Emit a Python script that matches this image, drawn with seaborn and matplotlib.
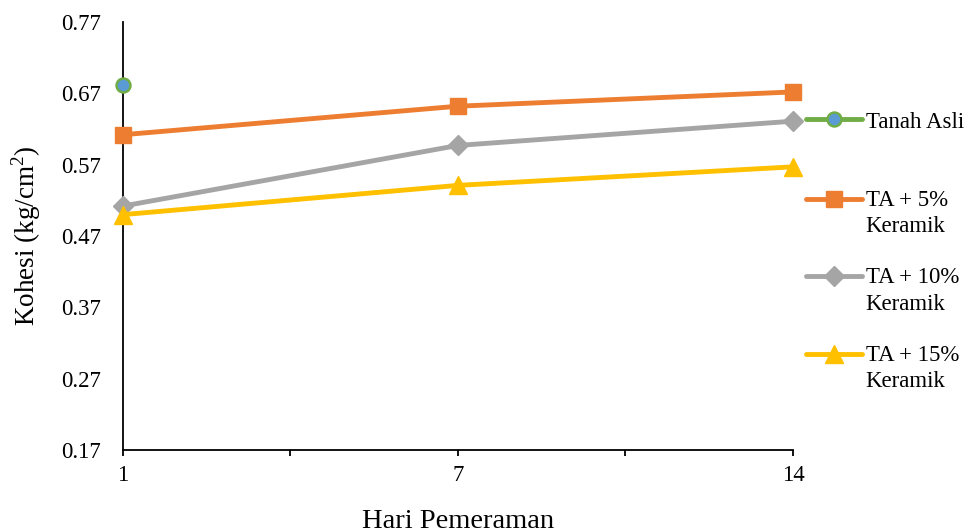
import matplotlib
matplotlib.use("Agg")
import matplotlib.pyplot as plt
from matplotlib.legend_handler import HandlerLine2D
import numpy as np
import pandas as pd
import seaborn as sns

# Curing days (category axis)
hari = ["1", "7", "14"]

# Cohesion values (kg/cm2) per mixture
tanah_asli = [0.682]
ta_5 = [0.612, 0.652, 0.672]
ta_10 = [0.512, 0.597, 0.631]
ta_15 = [0.500, 0.541, 0.567]

series_labels = ["Tanah Asli", "TA + 5%\nKeramik", "TA + 10%\nKeramik", "TA + 15%\nKeramik"]
y_ticks = [0.17, 0.27, 0.37, 0.47, 0.57, 0.67, 0.77]

sns.set_theme(style="white")
plt.rcParams["font.family"] = ["Liberation Serif", "DejaVu Serif"]
plt.rcParams["text.color"] = "black"
plt.rcParams["mathtext.fontset"] = "custom"
plt.rcParams["mathtext.rm"] = "Liberation Serif"

LEGEND_FS = 16.5


class FirstLineHandler(HandlerLine2D):
    """Line handler that lifts the sample to the first line of a two-line label."""

    def __init__(self, shift, **kw):
        super().__init__(**kw)
        self.shift = shift

    def create_artists(self, legend, orig_handle, xdescent, ydescent,
                       width, height, fontsize, trans):
        artists = super().create_artists(legend, orig_handle, xdescent, ydescent,
                                         width, height, fontsize, trans)
        for a in artists:
            a.set_ydata(np.asarray(a.get_ydata(), dtype=float) + self.shift)
        return artists


def frame(values):
    days = pd.Categorical(hari[:len(values)], categories=hari, ordered=True)
    return pd.DataFrame({"Hari": days, "Kohesi": values})


fig = plt.figure(figsize=(9.76, 5.32), dpi=100)
ax = fig.add_axes([0.126, 0.1541, 0.6865, 0.8045])

styles = [
    dict(color="#70AD47", marker="o", markerfacecolor="#5B9BD5", markeredgecolor="#70AD47",
         markersize=10, markeredgewidth=1.8),
    dict(color="#ED7D31", marker="s", markerfacecolor="#ED7D31", markeredgecolor="#ED7D31",
         markersize=12, markeredgewidth=1),
    dict(color="#A5A5A5", marker="D", markerfacecolor="#A5A5A5", markeredgecolor="#A5A5A5",
         markersize=10, markeredgewidth=1),
    dict(color="#FFC000", marker="^", markerfacecolor="#FFC000", markeredgecolor="#FFC000",
         markersize=13, markeredgewidth=1),
]

for values, label, st in zip([tanah_asli, ta_5, ta_10, ta_15], series_labels, styles):
    sns.lineplot(data=frame(values), x="Hari", y="Kohesi", ax=ax, label=label,
                 linewidth=3.5, sort=False, legend=False, clip_on=False, zorder=3, **st)

ax.set_xlim(0, 2)
ax.set_ylim(0.17, 0.77)
ax.set_xticks([0, 1, 2])
ax.set_xticklabels(hari)
ax.set_xticks([0.5, 1.5], minor=True)
ax.set_yticks(y_ticks)
ax.set_yticklabels([f"{v:.2f}" for v in y_ticks])

for side in ["top", "right"]:
    ax.spines[side].set_visible(False)
for side in ["left", "bottom"]:
    ax.spines[side].set_color("black")
    ax.spines[side].set_linewidth(1.3)

ax.tick_params(axis="both", which="both", direction="out", width=1.3,
               color="black", labelsize=16.5, labelcolor="black")
ax.tick_params(axis="y", length=6, pad=10)
ax.tick_params(axis="x", which="both", length=4.5, pad=6.5, bottom=True)

ax.set_xlabel("Hari Pemeraman", fontsize=20.5, color="black", labelpad=16)
ax.set_ylabel("Kohesi (kg/cm$^2$)", fontsize=19.5, color="black", labelpad=13)

handles, labels = ax.get_legend_handles_labels()
common = dict(loc="center left", frameon=False, fontsize=LEGEND_FS, labelcolor="black",
              handlelength=2.45, handletextpad=0.15, borderpad=0, borderaxespad=0)

# fig.legend registers each legend with the figure, so both stay visible
fig.legend(handles[:1], labels[:1],
           bbox_to_anchor=(806 / 976, 1 - 122 / 532), **common)

lift = 0.65 * LEGEND_FS
leg2 = fig.legend(handles[1:], labels[1:],
                  bbox_to_anchor=(806 / 976, 1 - 291 / 532), labelspacing=1.32,
                  handler_map={h: FirstLineHandler(lift) for h in handles[1:]},
                  **common)
for t in leg2.get_texts():
    t.set_linespacing(1.33)

fig.savefig("out.png", dpi=100)
